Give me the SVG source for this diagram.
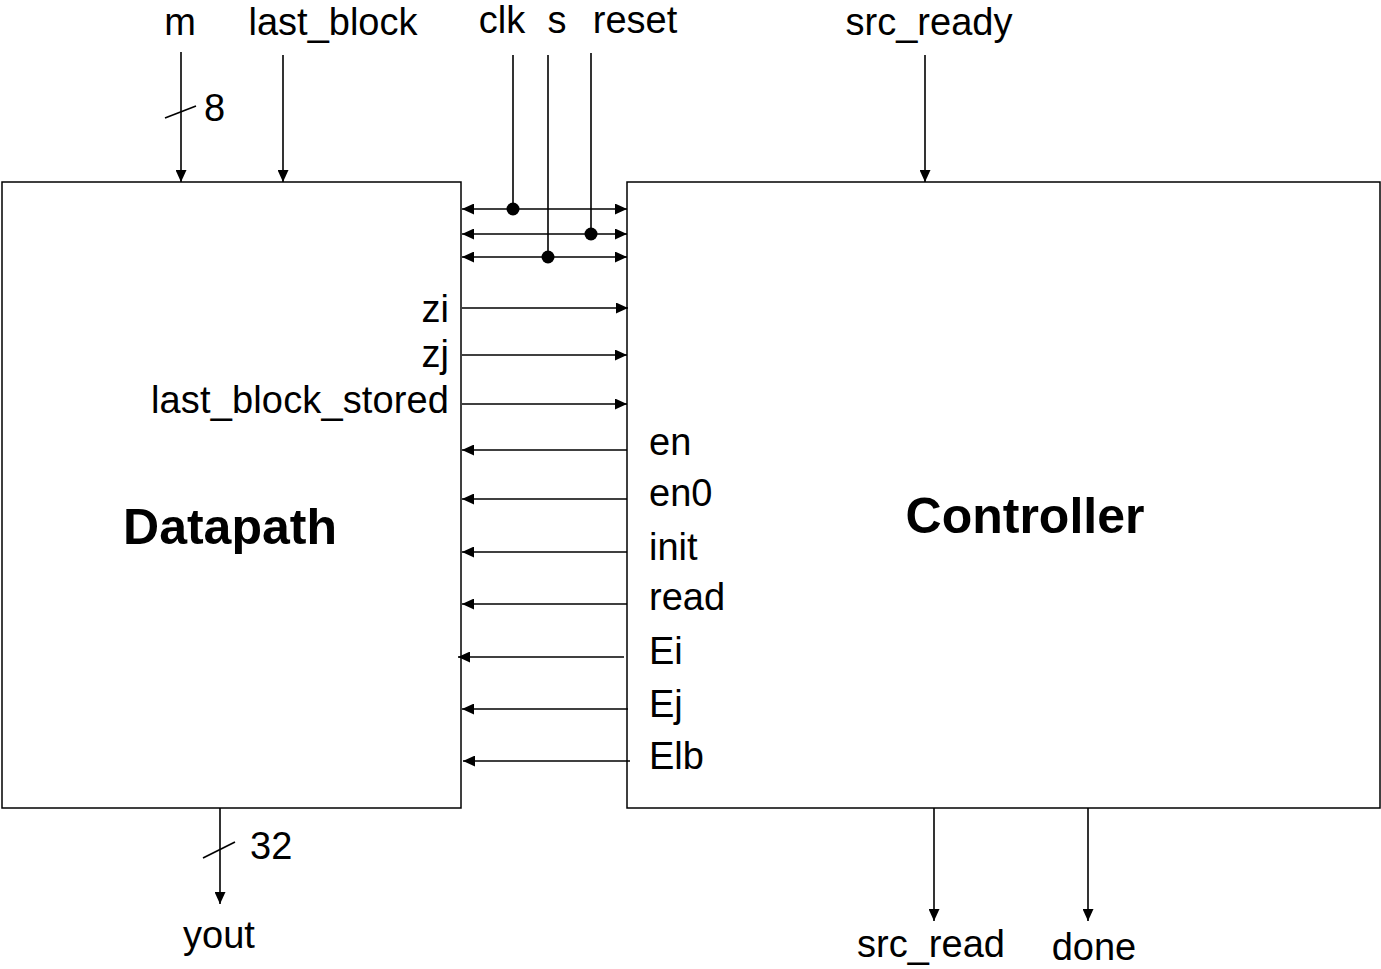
<svg xmlns="http://www.w3.org/2000/svg" width="1381" height="969" viewBox="0 0 1381 969">
<style>
text{font-family:"Liberation Sans",Arial,sans-serif;font-size:38px;fill:#000}
.t{font-size:50px;font-weight:bold}
.box{fill:#fff;stroke:#000;stroke-width:1.5}
.w{stroke:#000;stroke-width:1.6;fill:none}
.e{marker-end:url(#ah)}
.b{marker-start:url(#ahs);marker-end:url(#ah)}
</style>
<defs>
<marker id="ah" viewBox="0 0 12 11" refX="12" refY="5.5" markerWidth="12" markerHeight="11" markerUnits="userSpaceOnUse" orient="auto"><path d="M0,0L12,5.5L0,11z" fill="#000"/></marker>
<marker id="ahs" viewBox="0 0 12 11" refX="0" refY="5.5" markerWidth="12" markerHeight="11" markerUnits="userSpaceOnUse" orient="auto"><path d="M12,0L0,5.5L12,11z" fill="#000"/></marker>
</defs>
<rect width="1381" height="969" fill="#fff"/>
<g id="datapath"><rect class="box" x="2" y="182" width="459" height="626"/><text class="t" x="230" y="544" text-anchor="middle">Datapath</text>
<text x="449" y="322" text-anchor="end">zi</text><text x="449" y="367" text-anchor="end">zj</text><text x="449" y="413" text-anchor="end" textLength="298">last_block_stored</text></g>
<g id="controller"><rect class="box" x="627" y="182" width="753" height="626"/><text class="t" x="1025" y="533" text-anchor="middle">Controller</text>
<text x="649" y="455">en</text><text x="649" y="506">en0</text><text x="649" y="560">init</text><text x="649" y="610">read</text><text x="649" y="664">Ei</text><text x="649" y="717">Ej</text><text x="649" y="769">Elb</text></g>
<g id="io-labels">
<text x="180" y="35" text-anchor="middle">m</text><text x="333" y="35" text-anchor="middle">last_block</text>
<text x="502" y="33" text-anchor="middle">clk</text><text x="557" y="33" text-anchor="middle">s</text><text x="635" y="33" text-anchor="middle">reset</text>
<text x="929" y="35" text-anchor="middle">src_ready</text>
<text x="204" y="121">8</text><text x="250" y="859">32</text>
<text x="219" y="948" text-anchor="middle">yout</text><text x="931" y="957" text-anchor="middle">src_read</text><text x="1094" y="960" text-anchor="middle">done</text>
</g>
<g id="connectors">
<path class="w e" d="M181,52V182"/><path class="w" d="M165,118L196,106"/>
<path class="w e" d="M283,55V182"/>
<path class="w e" d="M925,55V182"/>
<path class="w e" d="M220,808V904"/><path class="w" d="M203,858L235,842"/>
<path class="w e" d="M934,808V921"/><path class="w e" d="M1088,808V921"/>
<path class="w b" d="M462,209H627"/><path class="w b" d="M462,234H627"/><path class="w b" d="M462,257H627"/>
<path class="w" d="M513,55V209"/><path class="w" d="M548,55V257"/><path class="w" d="M591,53V234"/>
<circle cx="513" cy="209" r="6.5"/><circle cx="591" cy="234" r="6.5"/><circle cx="548" cy="257" r="6.5"/>
<path class="w e" d="M462,308H628"/><path class="w e" d="M462,355H627"/><path class="w e" d="M462,404H627"/>
<path class="w e" d="M627,450H462"/><path class="w e" d="M627,499H462"/><path class="w e" d="M627,552H462"/><path class="w e" d="M627,604H462"/>
<path class="w e" d="M624,657H458"/><path class="w e" d="M628,709H462"/><path class="w e" d="M630,761H463"/>
</g>
</svg>
